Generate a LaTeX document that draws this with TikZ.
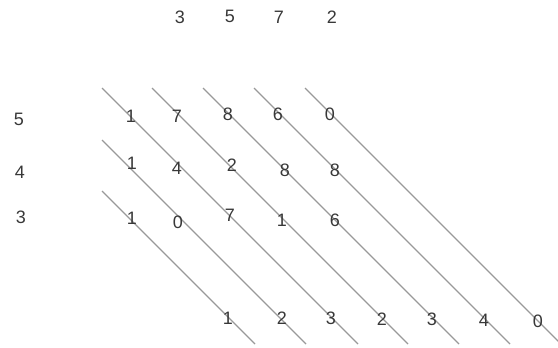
\documentclass[tikz,border=0pt]{standalone}
\usepackage{fontspec}
\setmainfont{Liberation Sans}
\begin{document}
\begin{tikzpicture}[x=1pt,y=-1pt,
  digit/.style={inner sep=0pt,text=black!78,font=\fontsize{18}{18}\selectfont},
  diag/.style={draw=black!40,line width=1.1pt}]
\useasboundingbox (0,0) rectangle (558,348);
% diagonal lines
\foreach \i/\x in {1/102,2/152,3/203,4/254,5/305}{
  \coordinate (t\i) at (\x,88);
  \coordinate (e\i) at (\x+256,344);
}
\coordinate (l1) at (102,140);
\coordinate (m1) at (306,344);
\coordinate (l2) at (102,191);
\coordinate (m2) at (255,344);
\foreach \i in {1,...,5}{ \draw[diag] (t\i) -- (e\i); }
\draw[diag] (l1) -- (m1);
\draw[diag] (l2) -- (m2);
% top factor
\node[digit] (a1) at (180,17) {3};
\node[digit] (a2) at (230,16) {5};
\node[digit] (a3) at (279,17) {7};
\node[digit] (a4) at (332,17) {2};
% left factor
\node[digit] (b1) at (19,119) {5};
\node[digit] (b2) at (20,172) {4};
\node[digit] (b3) at (21,217) {3};
% row 1
\node[digit] (r11) at (131,116) {1};
\node[digit] (r12) at (177,116) {7};
\node[digit] (r13) at (228,114) {8};
\node[digit] (r14) at (278,114) {6};
\node[digit] (r15) at (330,114) {0};
% row 2
\node[digit] (r21) at (132,163) {1};
\node[digit] (r22) at (177,168) {4};
\node[digit] (r23) at (232,165) {2};
\node[digit] (r24) at (285,170) {8};
\node[digit] (r25) at (335,170) {8};
% row 3
\node[digit] (r31) at (132,218) {1};
\node[digit] (r32) at (178,222) {0};
\node[digit] (r33) at (230,215) {7};
\node[digit] (r34) at (282,220) {1};
\node[digit] (r35) at (335,220) {6};
% result
\node[digit] (s1) at (228,318) {1};
\node[digit] (s2) at (282,318) {2};
\node[digit] (s3) at (331,318) {3};
\node[digit] (s4) at (382,319) {2};
\node[digit] (s5) at (432,319) {3};
\node[digit] (s6) at (484,320) {4};
\node[digit] (s7) at (538,321) {0};
\end{tikzpicture}
\end{document}
